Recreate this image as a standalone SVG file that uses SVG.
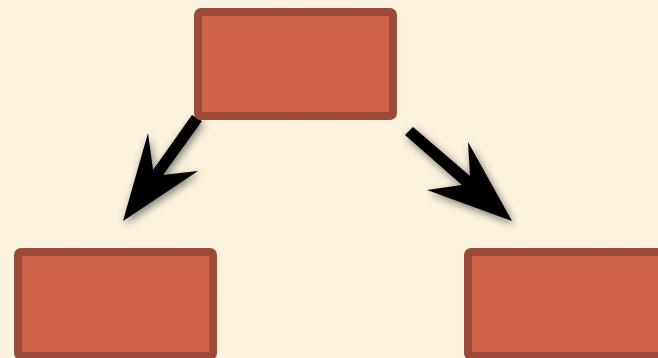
<svg xmlns="http://www.w3.org/2000/svg" width="658" height="358" viewBox="0 0 658 358">
  <defs>
    <style>
      .node { fill: #d0644a; stroke: #9c4a38; stroke-width: 8; }
      .arrow { fill: #000000; filter: url(#shadow); }
    </style>
    <filter id="shadow" x="-30%" y="-30%" width="160%" height="160%">
      <feGaussianBlur in="SourceAlpha" stdDeviation="4"/>
      <feOffset dx="2" dy="3" result="b"/>
      <feComponentTransfer><feFuncA type="linear" slope="0.5"/></feComponentTransfer>
      <feMerge><feMergeNode/><feMergeNode in="SourceGraphic"/></feMerge>
    </filter>
    <filter id="paper" x="0" y="0" width="100%" height="100%">
      <feTurbulence type="fractalNoise" baseFrequency="0.02" numOctaves="3" seed="4"/>
      <feColorMatrix type="matrix" values="0 0 0 0 0.98  0 0 0 0 0.92  0 0 0 0 0.80  0 0 0 0.6 -0.2"/>
    </filter>
  </defs>
  <rect id="background" x="0" y="0" width="658" height="358" fill="#fcf3de"/>
  <rect x="0" y="0" width="658" height="358" filter="url(#paper)" opacity="0.5"/>
  <g id="connectors">
    <path class="arrow" d="M192,115 L153,170 L148,133 L123,221 L198,171 L163,175 L202,121 Z"/>
    <path class="arrow" d="M413,127 L470,176 L468,142 L512,221 L427,190 L462,185 L405,135 Z"/>
  </g>
  <g id="node-top">
    <rect class="node" x="198" y="12" width="195" height="104" rx="3"/>
  </g>
  <g id="node-left">
    <rect class="node" x="18" y="252" width="195" height="104" rx="3"/>
  </g>
  <g id="node-right">
    <rect class="node" x="468" y="252" width="195" height="104" rx="3"/>
  </g>
</svg>
